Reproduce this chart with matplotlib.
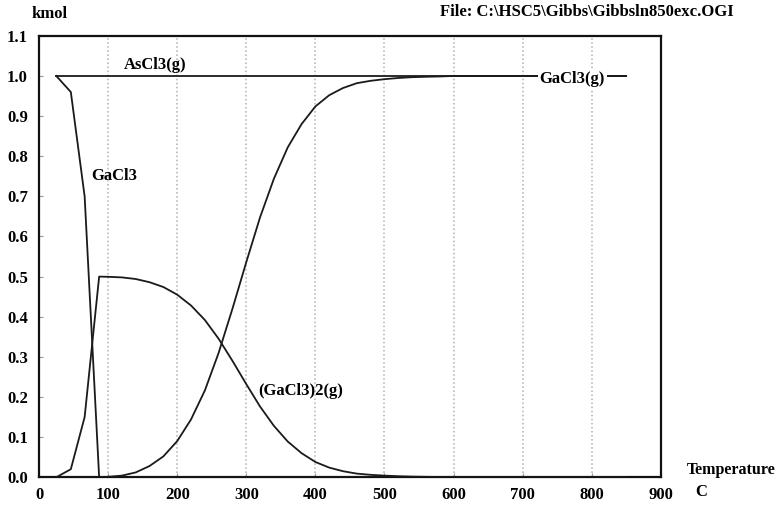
import matplotlib
matplotlib.use("Agg")
import matplotlib.pyplot as plt

# Temperatura (C) y cantidades de equilibrio (kmol)
temp = [25, 46, 66, 87, 100, 120, 140, 160, 180, 200, 220, 240, 260, 280,
        300, 320, 340, 360, 380, 400, 420, 440, 460, 480, 500, 520, 540,
        560, 580, 600, 850]
ascl3_g = [1.0] * len(temp)
gacl3_s = [1.0, 0.96, 0.70, 0.0] + [0.0] * (len(temp) - 4)
gacl3_2_g = [0.0, 0.02, 0.15, 0.5, 0.4995, 0.498, 0.494, 0.486, 0.474,
             0.455, 0.428, 0.392, 0.345, 0.29, 0.232, 0.176, 0.128, 0.089,
             0.06, 0.038, 0.024, 0.015, 0.009, 0.006, 0.004, 0.0025, 0.0015,
             0.001, 0.0006, 0.0, 0.0]
gacl3_g = [0.0, 0.0, 0.0, 0.0, 0.001, 0.004, 0.012, 0.028, 0.052, 0.09,
           0.144, 0.216, 0.31, 0.42, 0.536, 0.648, 0.744, 0.822, 0.88,
           0.924, 0.952, 0.97, 0.982, 0.988, 0.992, 0.995, 0.997, 0.998,
           0.9988, 1.0, 1.0]

xticks = [0, 100, 200, 300, 400, 500, 600, 700, 800, 900]
yticks = [0.0, 0.1, 0.2, 0.3, 0.4, 0.5, 0.6, 0.7, 0.8, 0.9, 1.0, 1.1]

plt.rcParams["font.family"] = ["Liberation Serif", "DejaVu Serif"]
plt.rcParams["font.weight"] = "bold"
fs = 12

fig = plt.figure(figsize=(7.81, 5.05), dpi=100)
ax = fig.add_axes([0.050, 0.055, 0.796, 0.874])

for x in xticks[1:-1]:
    ax.axvline(x, color="#b0b0b0", linestyle=":", linewidth=1.1, zorder=1)

lw = 1.3
ax.plot(temp, ascl3_g, color="#1a1a1a", linewidth=lw, zorder=3)
ax.plot(temp, gacl3_s, color="#1a1a1a", linewidth=lw, zorder=3)
ax.plot(temp, gacl3_2_g, color="#1a1a1a", linewidth=lw, zorder=3)
ax.plot(temp, gacl3_g, color="#1a1a1a", linewidth=lw, zorder=3)

ax.set_xlim(0, 900)
ax.set_ylim(0, 1.1)
ax.set_xticks(xticks)
ax.set_yticks(yticks)
ax.set_xticklabels([str(v) for v in xticks])
ax.set_yticklabels([f"{v:.1f}" for v in yticks])
ax.tick_params(axis="both", direction="in", length=3, color="#999999",
               labelsize=fs)
ax.tick_params(axis="y", pad=8)
ax.tick_params(axis="x", pad=7)
for s in ax.spines.values():
    s.set_linewidth(1.6)
    s.set_color("#111111")

# Etiquetas de las curvas
ax.text(168, 1.027, "AsCl3(g)", ha="center", va="center", fontsize=fs,
        fontweight="bold", zorder=4)
ax.text(75, 0.75, "GaCl3", ha="left", va="center", fontsize=fs,
        fontweight="bold", zorder=4)
ax.text(317, 0.215, "(GaCl3)2(g)", ha="left", va="center", fontsize=fs,
        fontweight="bold", zorder=4)
ax.text(772, 0.993, "GaCl3(g)", ha="center", va="center", fontsize=fs,
        fontweight="bold", zorder=4,
        bbox=dict(facecolor="white", edgecolor="none", pad=1.5))

fig.text(50 / 781, 1 - 14 / 505, "kmol", ha="center", va="center",
         fontsize=fs, fontweight="bold")
fig.text(587 / 781, 1 - 12 / 505, "File: C:\\HSC5\\Gibbs\\Gibbsln850exc.OGI",
         ha="center", va="center", fontsize=fs, fontweight="bold")
fig.text(776 / 781, 1 - 470 / 505, "Temperature", ha="right", va="center",
         fontsize=11.5, fontweight="bold")
fig.text(701 / 781, 1 - 492 / 505, "C", ha="center", va="center",
         fontsize=fs, fontweight="bold")

fig.savefig("out.png", dpi=100)
